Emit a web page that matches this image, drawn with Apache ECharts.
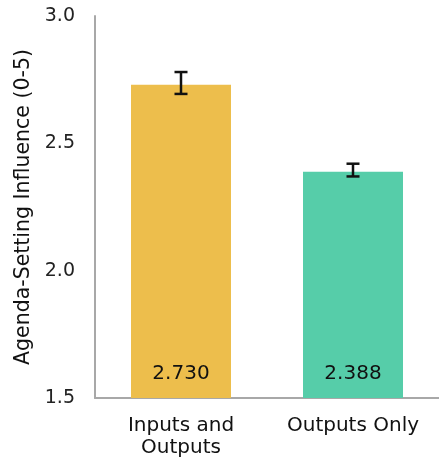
<!DOCTYPE html>
<html><head><meta charset="utf-8">
<script src="https://cdn.jsdelivr.net/npm/echarts@6/dist/echarts.min.js"></script>
<style>html,body{margin:0;padding:0;background:#fff}#c{width:439px;height:461px}</style>
</head><body><div id="c"></div>
<script>
const categories = ['Inputs and\nOutputs', 'Outputs Only'];
const values = [2.730, 2.388];
const errLow = [2.694, 2.370];
const errHigh = [2.780, 2.420];
const colors = ['#EDBE4C', '#56CDA9'];
const yTicks = [1.5, 2.0, 2.5, 3.0];

const chart = echarts.init(document.getElementById('c'));
chart.setOption({
  animation: false,
  grid: {left: 95, right: -5, top: 16, bottom: 63},
  xAxis: {
    type: 'category', data: categories,
    axisLine: {lineStyle: {color: '#A8A8A8', width: 2}},
    axisTick: {show: false},
    axisLabel: {fontFamily: 'DejaVu Sans', fontSize: 20, color: '#111', margin: 17, lineHeight: 22}
  },
  yAxis: {
    type: 'value', min: yTicks[0], max: yTicks[yTicks.length - 1], interval: 0.5,
    name: 'Agenda-Setting Influence (0-5)', nameLocation: 'middle', nameGap: 56,
    nameTextStyle: {fontFamily: 'DejaVu Sans', fontSize: 20.5, color: '#111'},
    axisLine: {show: true, lineStyle: {color: '#A8A8A8', width: 2}},
    axisTick: {show: false}, splitLine: {show: false},
    axisLabel: {fontFamily: 'DejaVu Sans', fontSize: 19, color: '#222', margin: 20,
      formatter: v => v.toFixed(1)}
  },
  series: [{
    type: 'bar', barWidth: 100,
    data: values.map((v, i) => ({value: v, itemStyle: {color: colors[i]}})),
    label: {show: true, position: 'insideBottom', distance: 14,
      fontFamily: 'DejaVu Sans', fontSize: 20, color: '#111',
      formatter: p => p.value.toFixed(3)}
  }, {
    type: 'custom',
    data: errLow.map((l, i) => [i, l, errHigh[i]]),
    renderItem: (params, api) => {
      const lo = api.coord([api.value(0), api.value(1)]);
      const hi = api.coord([api.value(0), api.value(2)]);
      const w = 6.5;
      const st = {stroke: '#111', lineWidth: 2.5};
      return {type: 'group', children: [
        {type: 'line', shape: {x1: lo[0], y1: lo[1], x2: hi[0], y2: hi[1]}, style: st},
        {type: 'line', shape: {x1: lo[0] - w, y1: lo[1], x2: lo[0] + w, y2: lo[1]}, style: st},
        {type: 'line', shape: {x1: hi[0] - w, y1: hi[1], x2: hi[0] + w, y2: hi[1]}, style: st}
      ]};
    },
    z: 10
  }]
});
</script></body></html>
